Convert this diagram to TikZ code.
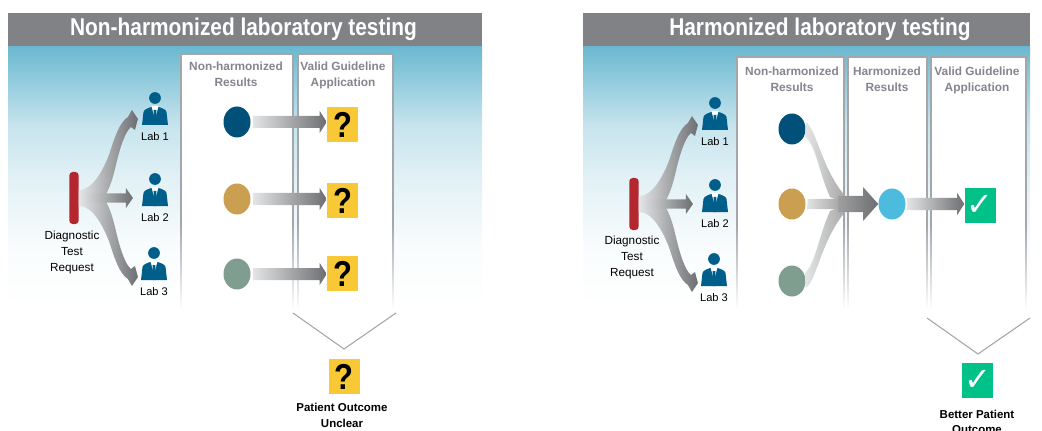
\documentclass[tikz,border=0pt]{standalone}
\usepackage{fontspec}
\setmainfont{Liberation Sans}
\newfontfamily\titlefont[FakeStretch=0.86]{Liberation Sans}
\newfontfamily\checkfont{DejaVu Sans}
\usetikzlibrary{shapes.geometric,calc}
\definecolor{hdr}{HTML}{808285}
\definecolor{sky}{HTML}{6AB8D0}
\definecolor{edgegray}{HTML}{A3A7AC}
\definecolor{headgray}{HTML}{85858F}
\definecolor{navy}{HTML}{00507A}
\definecolor{iconblue}{HTML}{005F8A}
\definecolor{ochre}{HTML}{CB9F52}
\definecolor{sage}{HTML}{7F9E8F}
\definecolor{cyanc}{HTML}{4DBBDD}
\definecolor{tubered}{HTML}{B5272F}
\definecolor{qyellow}{HTML}{F8C836}
\definecolor{okgreen}{HTML}{00C187}
\definecolor{arrowdark}{HTML}{6D6E71}
\definecolor{arrowlight}{HTML}{E4E5E6}
\pgfdeclareverticalshading{skyfade}{100bp}{%
  color(0bp)=(white);color(25bp)=(white);
  color(37bp)=(white!96!sky);color(50bp)=(white!80!sky);color(60bp)=(white!62!sky);
  color(75bp)=(sky);color(100bp)=(sky)}
\pgfdeclareverticalshading{edgefade}{100bp}{%
  color(0bp)=(white);color(25bp)=(white);color(33bp)=(edgegray!50!white);color(42bp)=(edgegray);
  color(75bp)=(edgegray);color(100bp)=(edgegray)}
\tikzset{
  dot/.style={ellipse,inner sep=0pt,minimum width=20.25pt,minimum height=23.25pt,draw=none},
  tubeshape/.style={fill=tubered,rounded corners=2.5pt,minimum width=7pt,minimum height=39pt,inner sep=0pt},
  titletext/.style={text=white,font=\titlefont\bfseries\fontsize{18.2}{20}\selectfont,inner sep=0pt},
  headtext/.style={text=headgray,font=\bfseries\fontsize{8.9}{12}\selectfont,align=center,inner sep=0pt},
  labtext/.style={text=black,font=\fontsize{8.3}{12}\selectfont,inner sep=0pt},
  reqtext/.style={text=black,font=\fontsize{8.8}{12}\selectfont,align=center,inner sep=0pt},
  outtext/.style={text=black,font=\bfseries\fontsize{8.6}{11.6}\selectfont,align=center,inner sep=0pt},
  qbox/.style={fill=qyellow,minimum width=23.25pt,minimum height=26.25pt,inner sep=0pt,font=\titlefont\bfseries\fontsize{27}{28}\selectfont,text=black},
  okbox/.style={fill=okgreen,minimum width=23.25pt,minimum height=26.25pt,inner sep=0pt,font=\checkfont\fontsize{24}{26}\selectfont,text=white},
  flow/.style={left color=arrowlight,right color=arrowdark,draw=none},
  merge/.style={left color=arrowlight,right color=gray!70,draw=none},
  chev/.style={draw=gray!70,line width=0.8pt},
}
% column: x0 x1 ytop
\newcommand\column[3]{%
  \fill[white] (#1,#3) rectangle (#2,310);
  \shade[shading=edgefade] (#1-0.7,#3) rectangle (#1+0.7,310);
  \shade[shading=edgefade] (#2-0.7,#3) rectangle (#2+0.7,310);
  \draw[edgegray,line width=1pt] (#1-0.7,#3) -- (#2+0.7,#3);
}
% panel: x0 x1
\newcommand\panel[2]{%
  \shade[shading=skyfade] (#1,46) rectangle (#2,310);
  \fill[hdr] (#1,13) rectangle (#2,46);
}
% person icon: name, x, y (head centre), label
\newcommand\person[4]{%
  \node[circle,fill=iconblue,minimum size=8.8pt,inner sep=0pt] (#1) at (#2,#3) {};
  \begin{scope}[shift={(#1.center)}]
    \fill[iconblue] (-13,27) -- (-11.5,14) .. controls (-11,11.5) and (-7,10) .. (-3.5,9) -- (3.5,9) .. controls (7,10) and (11,11.5) .. (11.5,14) -- (13,27) -- cycle;
    \fill[white] (-3.6,8) -- (3.6,8) -- (0,21) -- cycle;
    \fill[iconblue] (-1.3,12) -- (1.3,12) -- (1.4,27) -- (-1.4,27) -- cycle;
  \end{scope}
  \node[labtext] (#1t) at ($(#1.center)+(0,39)$) {#4};
}
% straight gradient arrow: gap, from, to, half shaft, head length, half head
\newcommand\straightflow[6][0]{%
  \coordinate (sA) at ([xshift=#1*0.75pt]#2.east);
  \coordinate (tA) at (#3.west |- sA);
  \shade[flow] ($(sA)+(0,-#4)$) -- ($(tA)+(-#5,-#4)$) -- ($(tA)+(-#5,-#6)$) -- (tA) -- ($(tA)+(-#5,#6)$) -- ($(tA)+(-#5,#4)$) -- ($(sA)+(0,#4)$) -- cycle;
}
% branching arrows from the tube to the labs
\newcommand\fan[1]{%
  \begin{scope}[shift={(#1.east)}]
    \foreach \ys in {1,-1}{
      \begin{scope}[yscale=\ys]
        \shade[flow] (0,-8) .. controls (14,-8) and (24,-28) .. (30,-43)
          .. controls (36,-62) and (41,-76) .. (49,-81)
          -- (53,-88) -- (59,-79) -- (56,-68) -- (52,-71)
          .. controls (46,-66) and (41,-50) .. (37,-33)
          .. controls (34,-20) and (31,-10) .. (25,0) -- (0,0) -- cycle;
      \end{scope}
    }
    \shade[flow] (0,-8) -- (14,-4.5) -- (47,-4.5) -- (47,-10) -- (54,0) -- (47,10) -- (47,4.5) -- (14,4.5) -- (0,8) -- cycle;
  \end{scope}
}
\begin{document}
\begin{tikzpicture}[x=0.75pt,y=-0.75pt]
\path[use as bounding box,fill=white] (0,0) rectangle (1042,431);

%% LEFT PANEL
\panel{8}{482}
\node[titletext] (tL) at (243.5,29.5) {Non-harmonized laboratory testing};
\column{181}{293}{54}
\column{298}{393}{54}
\node[headtext] (hL1) at (236,74) {Non-harmonized\\Results};
\node[headtext] (hL2) at (343,75.5) {Valid Guideline\\Application};
\draw[chev] (293,313) -- (344,349) -- (396,313);
\node[tubeshape] (tubeL) at (74,198) {};
\node[reqtext] (reqL) at (72,252) {Diagnostic\\Test\\Request};
\person{labLa}{155}{98}{Lab 1}
\person{labLb}{155}{179}{Lab 2}
\person{labLc}{154}{253}{Lab 3}
\fan{tubeL}
\node[dot,fill=navy] (cLa) at (237,122) {};
\node[dot,fill=ochre] (cLb) at (237,199) {};
\node[dot,fill=sage] (cLc) at (237,274) {};
\node[qbox] (qLa) at (342.5,124.5) {?};
\node[qbox] (qLb) at (342.5,200.5) {?};
\node[qbox] (qLc) at (342.5,273.5) {?};
\straightflow[2]{cLa}{qLa}{6}{7}{11}
\straightflow[2]{cLb}{qLb}{6}{7}{11}
\straightflow[2]{cLc}{qLc}{6}{7}{11}
\node[qbox] (qLd) at (344,376.5) {?};
\node[outtext] (oL) at (342,415.5) {Patient Outcome\\Unclear};

%% RIGHT PANEL
\panel{583}{1030}
\node[titletext] (tR) at (820,29.5) {Harmonized laboratory testing};
\column{737}{844}{57}
\column{848}{927}{57}
\column{931}{1026}{57}
\node[headtext] (hR1) at (792,79) {Non-harmonized\\Results};
\node[headtext] (hR2) at (887,79) {Harmonized\\Results};
\node[headtext] (hR3) at (977,80.5) {Valid Guideline\\Application};
\draw[chev] (927,318) -- (978,354) -- (1030,318);
\node[tubeshape] (tubeR) at (634,204) {};
\node[reqtext] (reqR) at (632,257) {Diagnostic\\Test\\Request};
\person{labRa}{715}{103}{Lab 1}
\person{labRb}{715}{185}{Lab 2}
\person{labRc}{714}{259}{Lab 3}
\fan{tubeR}
\node[dot,fill=navy] (cRa) at (792,129) {};
\node[dot,fill=ochre] (cRb) at (792,204) {};
\node[dot,fill=sage] (cRc) at (792,281) {};
\node[dot,fill=cyanc] (cRd) at (892,204) {};
% merging flows
\shade[merge] (cRa.east) ++(0,-7) .. controls (816,128) and (822,170) .. (846,197) -- (846,204) -- (830,197) .. controls (818,170) and (816,145) .. (805,137) -- cycle;
\shade[merge] (cRc.east) ++(0,7) .. controls (816,282) and (822,238) .. (846,211) -- (846,204) -- (830,211) .. controls (818,238) and (816,262) .. (805,273) -- cycle;
\shade[merge] (cRb.east) ++(2,-5) -- (840,199) -- (840,209) -- (807,209) -- cycle;
\shade[left color=gray!75,right color=arrowdark] (838,196) -- (863,196) -- (863,187) -- (cRd.west) -- (863,221) -- (863,212) -- (838,212) -- cycle;
\node[okbox] (kRa) at (980,205.5) {✓};
\straightflow[1]{cRd}{kRa}{6}{7}{11}
\node[okbox] (kRb) at (977.5,380.5) {✓};
\node[outtext] (oR) at (977,422) {Better Patient\\Outcome};
\end{tikzpicture}
\end{document}
